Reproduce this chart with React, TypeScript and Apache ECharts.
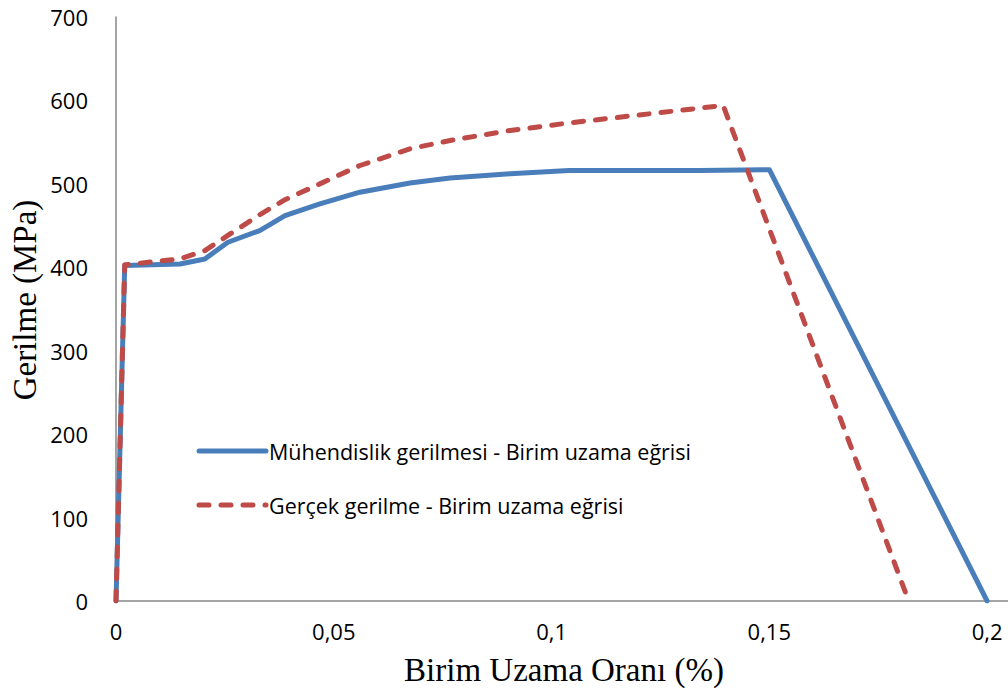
import React, { useEffect, useRef } from "react";
import * as echarts from "echarts";

const seriesNames = [
  "Mühendislik gerilmesi - Birim uzama eğrisi",
  "Gerçek gerilme - Birim uzama eğrisi",
];

const engStrain = [0, 0.002, 0.0147, 0.0204, 0.0257, 0.033, 0.0388, 0.0468, 0.056, 0.0675, 0.0767, 0.0905, 0.104, 0.134, 0.150, 0.2];
const engStress = [0, 402, 404, 410, 430, 444, 462, 476, 490, 501, 507, 512, 516, 516, 517, 0];

const trueStrain = [0, 0.002, 0.0147, 0.0204, 0.0262, 0.033, 0.0388, 0.0468, 0.056, 0.0675, 0.0767, 0.0905, 0.104, 0.1226, 0.1394, 0.182];
const trueStress = [0, 403, 410, 420, 440, 463, 481, 500, 522, 542, 552, 564, 573, 584, 594, 0];

const xTitle = "Birim Uzama Oranı (%)";
const yTitle = "Gerilme (MPa)";

const BLUE = "#4a7ebb";
const RED = "#be4b48";

export default function App() {
  const ref = useRef<HTMLDivElement>(null);
  useEffect(() => {
    if (!ref.current) return;
    const chart = echarts.init(ref.current, undefined, { renderer: "svg" });
    const axisLine = { show: true, lineStyle: { color: "#868686", width: 1.5 } };
    const legendFont = { fontSize: 21.5, fontFamily: "Open Sans", fill: "#000" };
    chart.setOption({
      animation: false,
      backgroundColor: "#ffffff",
      grid: { left: 116, right: 0, top: 17, bottom: 90, containLabel: false },
      xAxis: {
        type: "value",
        min: 0,
        max: 0.2048,
        interval: 0.05,
        axisLine,
        axisTick: { show: false },
        splitLine: { show: false },
        axisLabel: {
          showMaxLabel: false,
          margin: 19,
          fontSize: 22,
          color: "#000",
          fontFamily: "Open Sans",
          formatter: (v: number) => (Math.abs(v) < 1e-9 ? "0" : String(+v.toFixed(2)).replace(".", ",")),
        },
      },
      yAxis: {
        type: "value",
        min: 0,
        max: 700,
        interval: 100,
        axisLine,
        axisTick: { show: false },
        splitLine: { show: false },
        axisLabel: { margin: 28, fontSize: 22, color: "#000", fontFamily: "Open Sans" },
      },
      graphic: [
        {
          type: "text",
          x: 564,
          y: 670,
          style: { text: xTitle, fontSize: 33, fontFamily: "Liberation Serif", fill: "#000", align: "center", verticalAlign: "middle" },
        },
        {
          type: "text",
          x: 25,
          y: 300,
          rotation: Math.PI / 2,
          style: { text: yTitle, fontSize: 33, fontFamily: "Liberation Serif", fill: "#000", align: "center", verticalAlign: "middle" },
        },
        {
          type: "line",
          shape: { x1: 199, y1: 451, x2: 266, y2: 451 },
          style: { stroke: BLUE, lineWidth: 5, lineCap: "round" },
        },
        {
          type: "text",
          x: 269,
          y: 451,
          style: { text: seriesNames[0], ...legendFont, align: "left", verticalAlign: "middle" },
        },
        {
          type: "line",
          shape: { x1: 199, y1: 505, x2: 266, y2: 505 },
          style: { stroke: RED, lineWidth: 5, lineCap: "round", lineDash: [10, 12] },
        },
        {
          type: "text",
          x: 269,
          y: 505,
          style: { text: seriesNames[1], ...legendFont, align: "left", verticalAlign: "middle" },
        },
      ],
      series: [
        {
          name: seriesNames[0],
          type: "line",
          symbol: "none",
          data: engStrain.map((x, i) => [x, engStress[i]]),
          lineStyle: { color: BLUE, width: 5, cap: "round", join: "round" },
          itemStyle: { color: BLUE },
          z: 2,
        },
        {
          name: seriesNames[1],
          type: "line",
          symbol: "none",
          data: trueStrain.map((x, i) => [x, trueStress[i]]),
          lineStyle: { color: RED, width: 5, type: [10, 12], cap: "round", join: "round" },
          itemStyle: { color: RED },
          z: 3,
        },
      ],
    });
    return () => chart.dispose();
  }, []);
  return <div ref={ref} style={{ width: 1008, height: 691, position: "absolute", left: 0, top: 0 }} />;
}
